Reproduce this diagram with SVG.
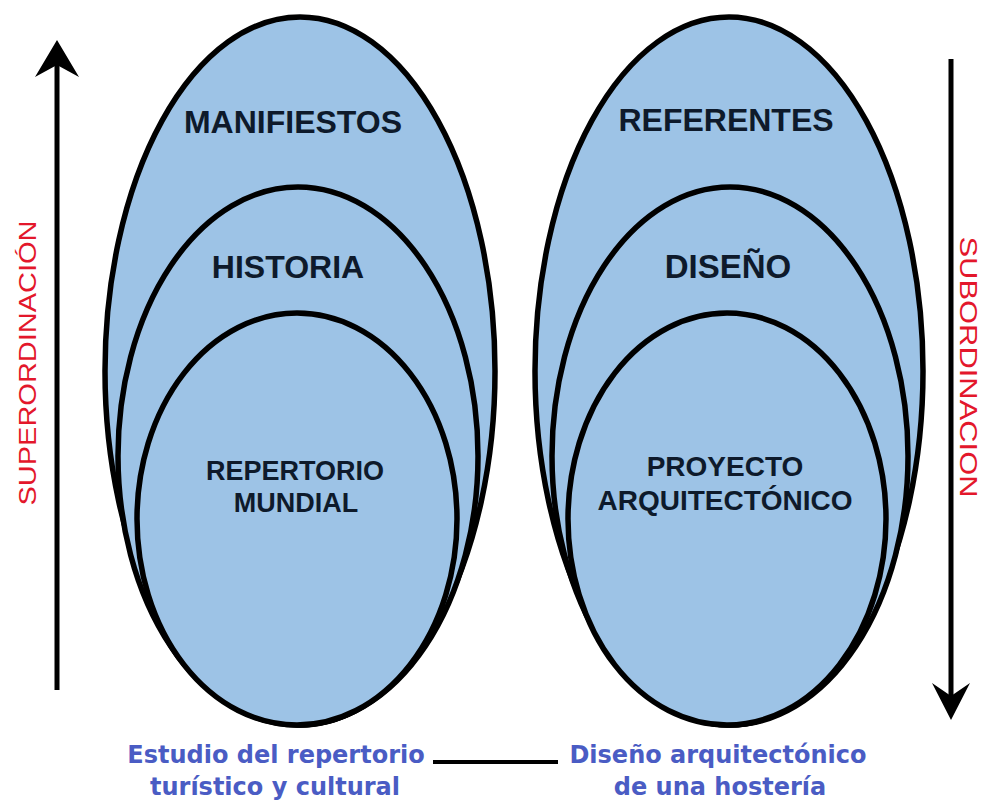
<svg xmlns="http://www.w3.org/2000/svg" width="982" height="802" viewBox="0 0 982 802">
<style>
.ell{fill:#9DC3E6;stroke:#000;stroke-width:5.5}
.lbl{font-family:"Liberation Sans",Arial,sans-serif;font-weight:bold;fill:#0E1A2B;text-anchor:middle}
.red{font-family:"Liberation Sans",Arial,sans-serif;fill:#E3172B;text-anchor:middle;font-size:24px}
.blue{font-family:"DejaVu Sans",sans-serif;font-weight:bold;fill:#4A5CC4;text-anchor:middle;font-size:24px}
.ax{stroke:#000;stroke-width:5;fill:none}
</style>
<rect width="982" height="802" fill="#fff"/>
<g id="left-stack">
  <g id="manifiestos"><ellipse class="ell" cx="300" cy="371" rx="195" ry="354"/><text class="lbl" x="293" y="133" font-size="32">MANIFIESTOS</text></g>
  <g id="historia"><ellipse class="ell" cx="298" cy="456" rx="180" ry="269"/><text class="lbl" x="288" y="278" font-size="32">HISTORIA</text></g>
  <g id="repertorio"><ellipse class="ell" cx="297" cy="519" rx="160" ry="206"/><text class="lbl" x="295" y="480" font-size="27">REPERTORIO</text><text class="lbl" x="296" y="512" font-size="27">MUNDIAL</text></g>
</g>
<g id="right-stack">
  <g id="referentes"><ellipse class="ell" cx="729" cy="371" rx="194" ry="354"/><text class="lbl" x="726" y="131" font-size="32">REFERENTES</text></g>
  <g id="diseno"><ellipse class="ell" cx="730" cy="456" rx="178" ry="269"/><text class="lbl" x="728" y="278" font-size="33">DISEÑO</text></g>
  <g id="proyecto"><ellipse class="ell" cx="727" cy="519" rx="159" ry="206"/><text class="lbl" x="725" y="476" font-size="28">PROYECTO</text><text class="lbl" x="725" y="510" font-size="28">ARQUITECTÓNICO</text></g>
</g>
<g id="superordinacion">
  <line class="ax" x1="57" y1="62" x2="57" y2="690"/>
  <path d="M57,40 L79,77 L57,65 L35,77 Z" fill="#000"/>
  <text class="red" transform="translate(36,363) rotate(-90)" textLength="285" lengthAdjust="spacingAndGlyphs">SUPERORDINACIÓN</text>
</g>
<g id="subordinacion">
  <line class="ax" x1="951" y1="59" x2="951" y2="700"/>
  <path d="M951,720 L970,683 L951,696 L932,683 Z" fill="#000"/>
  <text class="red" transform="translate(960,367) rotate(90)" textLength="261" lengthAdjust="spacingAndGlyphs">SUBORDINACION</text>
</g>
<g id="estudio"><text class="blue" x="276" y="763">Estudio del repertorio</text><text class="blue" x="275" y="795">turístico y cultural</text></g>
<g id="diseno-hosteria"><text class="blue" x="718" y="763">Diseño arquitectónico</text><text class="blue" x="720" y="795">de una hostería</text></g>
<g id="connectors"><line x1="433" y1="762" x2="558" y2="762" stroke="#000" stroke-width="4"/></g>
</svg>
